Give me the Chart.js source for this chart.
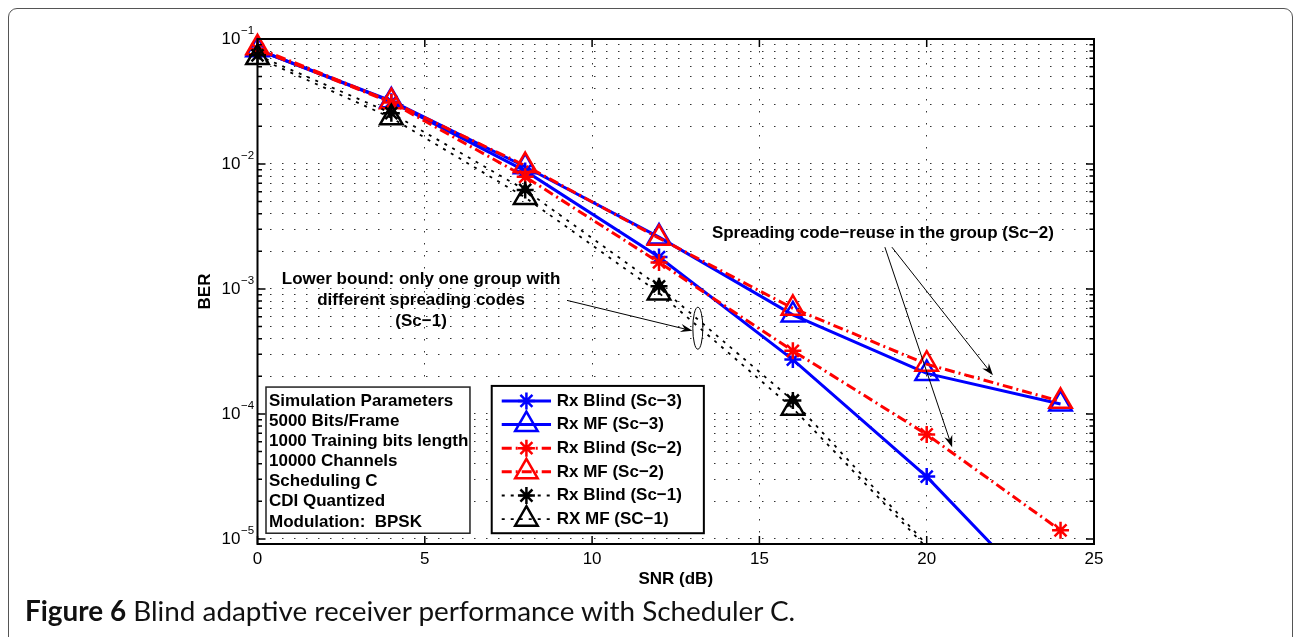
<!DOCTYPE html>
<html>
<head>
<meta charset="utf-8">
<script src="https://cdn.jsdelivr.net/npm/chart.js@4.4.0/dist/chart.umd.min.js"></script>
<style>
html,body{margin:0;padding:0;background:#fff;overflow:hidden;}
#wrap{position:relative;width:1294px;height:637px;overflow:hidden;}
#frame{position:absolute;left:8px;top:8px;width:1285px;height:720px;border:1.5px solid #555;border-radius:9px;box-sizing:border-box;}
#c{position:absolute;left:0;top:0;}
#cap{position:absolute;left:25px;top:598px;font-family:Lato,"Open Sans",sans-serif;font-size:18px;color:#111;white-space:nowrap;}
#cap b{font-weight:700;}
</style>
</head>
<body>
<div id="wrap">
  <div id="frame"></div>
  <canvas id="c" width="1294" height="637"></canvas>
  <div id="cap"><b>Figure 6</b> Blind adaptive receiver performance with Scheduler C.</div>
</div>
<script>
// ---------- data ----------
const snr = [0, 4, 8, 12, 16, 20, 24];
const rxBlindSc3 = [0.082, 0.0315, 0.0088, 0.0018, 0.000272, 0.0000315, 0.0000024];
const rxMfSc3    = [0.082, 0.032, 0.0095, 0.0026, 0.00062, 0.000211, 0.00012];
const rxBlindSc2 = [0.083, 0.031, 0.0079, 0.00163, 0.00032, 0.0000685, 0.0000117];
const rxMfSc2    = [0.085, 0.0315, 0.0097, 0.00255, 0.0007, 0.00025, 0.000126];
const rxBlindSc1 = [0.074, 0.0255, 0.0062, 0.00105, 0.000128, 0.0000090, null];
const rxMfSc1    = [0.071, 0.0234, 0.0054, 0.00093, 0.000111, 0.0000085, null];

const seriesNames = ['Rx Blind (Sc\u22123)', 'Rx MF (Sc\u22123)', 'Rx Blind (Sc\u22122)', 'Rx MF (Sc\u22122)', 'Rx Blind (Sc\u22121)', 'RX MF (SC\u22121)'];
const xTickValues = [0, 5, 10, 15, 20, 25];
const yDecades = [1e-5, 1e-4, 1e-3, 1e-2, 1e-1];
const yMinorMultipliers = [2, 3, 4, 5, 6, 7, 8, 9];
const simParams = ['Simulation Parameters', '5000 Bits/Frame', '1000 Training bits length', '10000 Channels', 'Scheduling C', 'CDI Quantized', 'Modulation:  BPSK'];
const spreadLabel = 'Spreading code\u2212reuse in the group (Sc\u22122)';
const lowerBoundLabel = ['Lower bound: only one group with', 'different spreading codes', '(Sc\u22121)'];
const xTitle = 'SNR (dB)';
const yTitle = 'BER';

// tick values (decades + minor)
const yTickValues = [];
yDecades.forEach((d, i) => {
  yTickValues.push(d);
  if (i < yDecades.length - 1) yMinorMultipliers.forEach(m => yTickValues.push(+(m * d).toPrecision(3)));
});

const Y_MIN = 9.1e-6, Y_MAX = 1e-1;
const FONT = '"Liberation Sans", Arial, Helvetica, sans-serif';

function pts(vals) { return snr.map((s, i) => ({x: s, y: vals[i]})); }
function radiusFor(r) { return ctx => (ctx.raw && ctx.raw.y != null && ctx.raw.y < Y_MIN) ? 0 : r; }

const BLUE = '#0000ff', RED = '#ff0000', BLACK = '#000000';
const DASHDOT = [10, 4, 2, 4];
const DOTTED = [3, 6];
const clip = {left: 20, top: 20, right: 20, bottom: 0};

const datasets = [
  {label: seriesNames[0], data: pts(rxBlindSc3), borderColor: BLUE, borderWidth: 3, borderDash: [], pointStyle: 'star', pointRadius: radiusFor(8.5), pointBorderWidth: 2.5, pointBorderColor: BLUE, pointBackgroundColor: 'rgba(0,0,0,0)', order: 3},
  {label: seriesNames[1], data: pts(rxMfSc3), borderColor: BLUE, borderWidth: 3, borderDash: [], pointStyle: 'triangle', pointRadius: radiusFor(13), pointBorderWidth: 2.5, pointBorderColor: BLUE, pointBackgroundColor: 'rgba(0,0,0,0)', order: 3},
  {label: seriesNames[2], data: pts(rxBlindSc2), borderColor: RED, borderWidth: 3, borderDash: DASHDOT, pointStyle: 'star', pointRadius: radiusFor(8.5), pointBorderWidth: 2.5, pointBorderColor: RED, pointBackgroundColor: 'rgba(0,0,0,0)', order: 2},
  {label: seriesNames[3], data: pts(rxMfSc2), borderColor: RED, borderWidth: 3, borderDash: DASHDOT, pointStyle: 'triangle', pointRadius: radiusFor(13), pointBorderWidth: 2.5, pointBorderColor: RED, pointBackgroundColor: 'rgba(0,0,0,0)', order: 2},
  {label: seriesNames[4], data: pts(rxBlindSc1), borderColor: BLACK, borderWidth: 1.8, borderDash: DOTTED, pointStyle: 'star', pointRadius: radiusFor(8.5), pointBorderWidth: 2.5, pointBorderColor: BLACK, pointBackgroundColor: 'rgba(0,0,0,0)', order: 1},
  {label: seriesNames[5], data: pts(rxMfSc1), borderColor: BLACK, borderWidth: 1.8, borderDash: DOTTED, pointStyle: 'triangle', pointRadius: radiusFor(13), pointBorderWidth: 2.5, pointBorderColor: BLACK, pointBackgroundColor: 'rgba(0,0,0,0)', order: 1}
];
datasets.forEach(d => { d.tension = 0; d.fill = false; d.clip = clip; d.spanGaps = false; d.borderCapStyle = 'butt'; });

// annotation anchors in data coordinates
const annot = {
  spreadText: [18.69, 2.8e-3],
  spreadArrows: [[[18.75, 2.16e-3], [20.76, 5.4e-5]], [[18.96, 2.16e-3], [21.98, 2.04e-4]]],
  lowerText: [4.89, 1.2e-3],
  lowerArrow: [[9.25, 8.1e-4], [13.0, 4.62e-4]],
  ellipse: [13.16, 4.85e-4],
  simBox: [[0.254, 1.64e-4], [6.35, 1.11e-5]],
  legendBox: [[7.0, 1.675e-4], [13.34, 1.11e-5]]
};

function drawMarker(ctx, style, x, y, r) {
  ctx.beginPath();
  if (style === 'triangle') {
    const c = Math.cos(Math.PI / 6) * r;
    ctx.moveTo(x, y - r); ctx.lineTo(x + c, y + r / 2); ctx.lineTo(x - c, y + r / 2); ctx.closePath();
  } else {
    const d = r * Math.SQRT1_2;
    ctx.moveTo(x - r, y); ctx.lineTo(x + r, y);
    ctx.moveTo(x, y - r); ctx.lineTo(x, y + r);
    ctx.moveTo(x - d, y - d); ctx.lineTo(x + d, y + d);
    ctx.moveTo(x - d, y + d); ctx.lineTo(x + d, y - d);
  }
  ctx.stroke();
}

function arrow(ctx, x1, y1, x2, y2) {
  const a = Math.atan2(y2 - y1, x2 - x1), c = Math.cos(a), s = Math.sin(a);
  const L = 12, W = 4.2, N = 8;
  ctx.beginPath(); ctx.moveTo(x1, y1); ctx.lineTo(x2 - c * N, y2 - s * N); ctx.stroke();
  ctx.beginPath(); ctx.moveTo(x2, y2);
  ctx.lineTo(x2 - L * c + W * s, y2 - L * s - W * c);
  ctx.lineTo(x2 - N * c, y2 - N * s);
  ctx.lineTo(x2 - L * c - W * s, y2 - L * s + W * c);
  ctx.closePath(); ctx.fill();
}

const axesPlugin = {
  id: 'axesBox',
  afterDatasetsDraw(chart) {
    const {ctx, chartArea: a, scales: {x, y}} = chart;
    ctx.save();
    ctx.strokeStyle = '#000';
    ctx.lineWidth = 1.5;
    ctx.beginPath();
    yTickValues.forEach(v => {
      const py = y.getPixelForValue(v);
      const len = yDecades.includes(v) ? 8 : 4.5;
      ctx.moveTo(a.left, py); ctx.lineTo(a.left + len, py);
      ctx.moveTo(a.right, py); ctx.lineTo(a.right - len, py);
    });
    xTickValues.forEach(v => {
      const px = x.getPixelForValue(v);
      ctx.moveTo(px, a.bottom); ctx.lineTo(px, a.bottom - 8);
      ctx.moveTo(px, a.top); ctx.lineTo(px, a.top + 8);
    });
    ctx.stroke();
    ctx.lineWidth = 2;
    ctx.strokeRect(a.left, a.top, a.right - a.left, a.bottom - a.top);
    ctx.restore();
  },
  afterDraw(chart) {
    const {ctx, chartArea: a, scales: {x, y}} = chart;
    const P = p => [x.getPixelForValue(p[0]), y.getPixelForValue(p[1])];
    ctx.save();
    // exponents of y tick labels
    ctx.fillStyle = '#000';
    ctx.font = '11.5px ' + FONT;
    ctx.textAlign = 'left'; ctx.textBaseline = 'middle';
    const labelRight = a.left - y.options.ticks.padding;
    yDecades.forEach(d => {
      const py = y.getPixelForValue(d);
      ctx.fillText('\u2212' + (-Math.round(Math.log10(d))), labelRight + 0.5, py - 8);
    });

    // spreading annotation
    ctx.font = 'bold 17px ' + FONT;
    ctx.textAlign = 'center';
    let p = P(annot.spreadText);
    ctx.fillText(spreadLabel, p[0], p[1]);
    ctx.strokeStyle = '#000'; ctx.lineWidth = 1;
    annot.spreadArrows.forEach(ar => { const f = P(ar[0]), t = P(ar[1]); arrow(ctx, f[0], f[1], t[0], t[1]); });

    // lower bound annotation
    p = P(annot.lowerText);
    lowerBoundLabel.forEach((t, i) => ctx.fillText(t, p[0], p[1] + i * 21));
    const f = P(annot.lowerArrow[0]), t = P(annot.lowerArrow[1]);
    arrow(ctx, f[0], f[1], t[0], t[1]);
    const e = P(annot.ellipse);
    ctx.beginPath(); ctx.ellipse(e[0], e[1], 5, 21, 0, 0, Math.PI * 2); ctx.stroke();

    // simulation parameters box
    let b0 = P(annot.simBox[0]), b1 = P(annot.simBox[1]);
    ctx.fillStyle = '#fff';
    ctx.fillRect(b0[0], b0[1], b1[0] - b0[0], b1[1] - b0[1]);
    ctx.strokeStyle = '#222'; ctx.lineWidth = 1.5;
    ctx.strokeRect(b0[0], b0[1], b1[0] - b0[0], b1[1] - b0[1]);
    ctx.fillStyle = '#000'; ctx.textAlign = 'left';
    simParams.forEach((s, i) => ctx.fillText(s, b0[0] + 3, b0[1] + 14 + i * 20.15));

    // legend box
    b0 = P(annot.legendBox[0]); b1 = P(annot.legendBox[1]);
    ctx.fillStyle = '#fff';
    ctx.fillRect(b0[0], b0[1], b1[0] - b0[0], b1[1] - b0[1]);
    ctx.strokeStyle = '#000'; ctx.lineWidth = 2;
    ctx.strokeRect(b0[0], b0[1], b1[0] - b0[0], b1[1] - b0[1]);
    chart.data.datasets.forEach((ds, i) => {
      const cy = b0[1] + 15 + i * 23.65;
      ctx.strokeStyle = ds.borderColor;
      ctx.lineWidth = ds.borderWidth;
      ctx.setLineDash(ds.borderDash || []);
      ctx.beginPath(); ctx.moveTo(b0[0] + 10, cy); ctx.lineTo(b0[0] + 59.3, cy); ctx.stroke();
      ctx.setLineDash([]);
      ctx.lineWidth = ds.pointBorderWidth;
      drawMarker(ctx, ds.pointStyle, b0[0] + 34.7, cy, ds.pointStyle === 'triangle' ? 13 : 8.5);
      ctx.fillStyle = '#000';
      ctx.fillText(ds.label, b0[0] + 65, cy);
    });
    ctx.restore();
  }
};

const chart = new Chart(document.getElementById('c'), {
  type: 'line',
  data: {datasets},
  options: {
    responsive: false,
    devicePixelRatio: 1,
    animation: false,
    events: [],
    layout: {padding: {left: 190, right: 200, top: 39, bottom: 47.5}},
    plugins: {legend: {display: false}, tooltip: {enabled: false}},
    scales: {
      x: {
        type: 'linear', min: 0, max: 25,
        afterBuildTicks: s => { s.ticks = xTickValues.map(v => ({value: v})); },
        afterFit: s => { s.height = 45.5; },
        ticks: {padding: 5, color: '#000', font: {family: FONT, size: 17}, autoSkip: false, maxRotation: 0},
        grid: {color: '#333', lineWidth: 1, drawTicks: false, borderDash: [1.5, 10.5]},
        border: {display: false, dash: [1.5, 10.5]},
        title: {display: true, text: xTitle, color: '#000', font: {family: FONT, size: 17, weight: 'bold'}, padding: {top: 0, bottom: 0}}
      },
      y: {
        type: 'logarithmic', min: Y_MIN, max: Y_MAX,
        afterBuildTicks: s => { s.ticks = yTickValues.map(v => ({value: v, major: yDecades.includes(v)})); },
        afterFit: s => { s.width = 67.5; },
        ticks: {padding: 17, color: '#000', font: {family: FONT, size: 17}, autoSkip: false,
                callback: v => yDecades.includes(v) ? '10' : ''},
        grid: {color: '#333', lineWidth: 1, drawTicks: false, borderDash: [1.5, 10.5]},
        border: {display: false, dash: [1.5, 10.5]},
        title: {display: true, text: yTitle, color: '#000', font: {family: FONT, size: 17, weight: 'bold'}, padding: {top: 5, bottom: 0}}
      }
    }
  },
  plugins: [axesPlugin]
});

// fit caption width to reference
const cap = document.getElementById('cap');
const targetW = 770;
cap.style.fontSize = (18 * targetW / cap.offsetWidth).toFixed(2) + 'px';
cap.style.top = (610 - cap.offsetHeight / 2).toFixed(1) + 'px';
</script>
</body>
</html>
